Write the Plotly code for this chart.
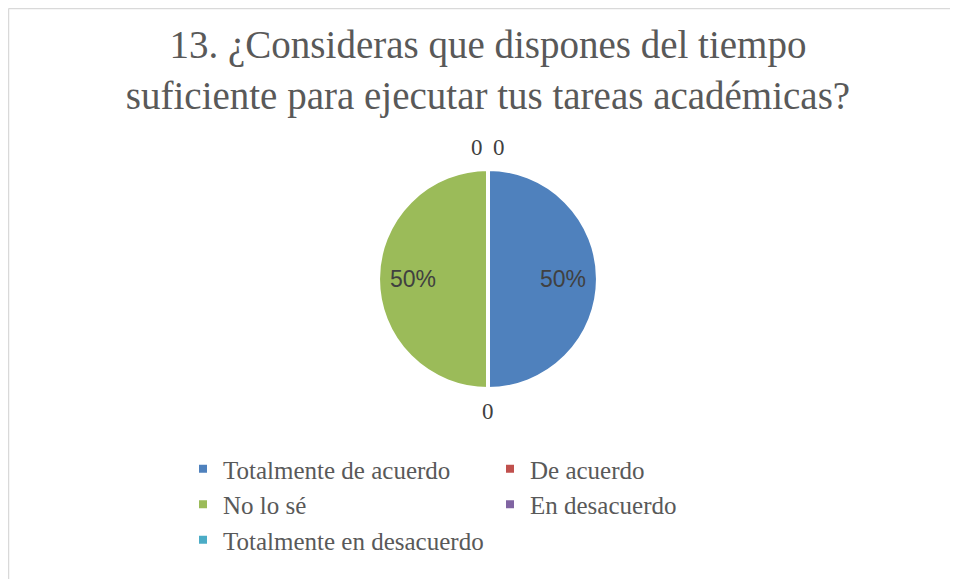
import math
import plotly.graph_objects as go

labels = ["Totalmente de acuerdo", "De acuerdo", "No lo sé", "En desacuerdo", "Totalmente en desacuerdo"]
values = [50, 0, 50, 0, 0]
colors = ["#4F81BD", "#C0504D", "#9BBB59", "#8064A2", "#4BACC6"]
title_text = "13. ¿Consideras que dispones del tiempo<br>suficiente para ejecutar tus tareas académicas?"

W, H = 958, 579
MR = 60           # right margin, keeps the legend at two entries per row
PW = W - MR       # plot-area width
OFF = 8           # the page body adds an 8px margin, so page px -> figure px
cx, cy, r = 488 - OFF, 279 - OFF, 110   # pie centre / radius in figure pixels

def fx(px):
    return px / PW

def fy(py):
    return 1 - py / H

fig = go.Figure(go.Pie(
    labels = labels, values = values, sort = False,
    direction = "clockwise", rotation = 0,
    marker = dict(colors = colors, line = dict(color = "white", width = 4)),
    textinfo = "none",
    domain = dict(x = [fx(cx - r), fx(cx + r)], y = [fy(cy + r), fy(cy - r)]),
    showlegend = True,
))

# data labels, Excel style: percent inside, zero values just outside the rim
total = sum(values)
cum = 0
prev_zero = None
for i, v in enumerate(values):
    mid = (cum + v / 2) / total
    cum += v
    ang = 2 * math.pi * mid
    if v:
        rr, txt = 0.68 * r, f"{round(100 * v / total)}%"
        fnt = dict(family = "Liberation Sans", size = 23, color = "#404040")
    else:
        rr, txt = 1.2 * r, str(v)
        fnt = dict(family = "Liberation Serif", size = 23, color = "#404040")
    px = cx + rr * math.sin(ang)
    py = cy - rr * math.cos(ang)
    shift = 0
    if not v and prev_zero is not None and abs(prev_zero - mid) < 1e-9:
        shift = 11
    elif not v and i + 1 < len(values) and values[i + 1] == 0 and abs(mid - 1) < 1e-9:
        shift = -11
    if not v:
        prev_zero = mid
    fig.add_annotation(x = fx(px + shift), y = fy(py), xref = "paper", yref = "paper",
                       xanchor = "center", yanchor = "middle",
                       text = txt, showarrow = False, font = fnt)

# chart frame (only top and left edges visible in the crop)
fig.add_shape(type = "line", xref = "paper", yref = "paper",
              x0 = fx(0.5), x1 = fx(W), y0 = fy(0.5), y1 = fy(0.5),
              line = dict(color = "#D9D9D9", width = 1.5))
fig.add_shape(type = "line", xref = "paper", yref = "paper",
              x0 = fx(0.5), x1 = fx(0.5), y0 = 0, y1 = fy(0.5),
              line = dict(color = "#D9D9D9", width = 1.5))

fig.update_layout(
    width = W, height = H,
    margin = dict(l = 0, r = MR, t = 0, b = 0),
    paper_bgcolor = "white",
    title = dict(text = title_text, x = cx / W, xanchor = "center",
                 y = 1 - 50 / H, yanchor = "top",
                 font = dict(family = "Liberation Serif", size = 39, color = "#595959")),
    legend = dict(orientation = "h", x = fx(175), y = fy(438),
                  xanchor = "left", yanchor = "top",
                  entrywidth = 262, entrywidthmode = "pixels",
                  font = dict(family = "Liberation Serif", size = 25, color = "#595959"),
                  itemwidth = 30, traceorder = "normal"),
)

fig.write_html("out.html", config = dict(displayModeBar = False))
